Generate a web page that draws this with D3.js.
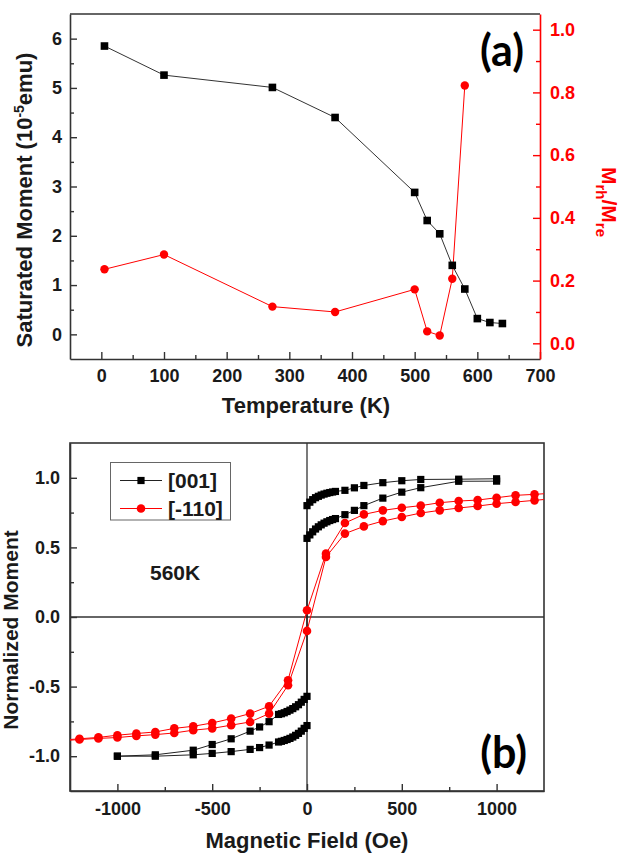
<!DOCTYPE html>
<html>
<head>
<meta charset="utf-8">
<script src="https://cdn.jsdelivr.net/npm/d3@7"></script>
<style>
	body { margin: 0; background: #fff; }
	svg { display: block; font-family: "Liberation Sans", Arial, sans-serif; font-weight: bold; }
</style>
</head>
<body>
<svg></svg>
<script>
// panel (a): saturated moment and remanence ratio vs temperature
const tempK = [5, 100, 273, 373, 500, 520, 540, 560, 580, 600, 620, 640];
const satMoment = [5.85, 5.26, 5.01, 4.40, 2.88, 2.31, 2.04, 1.40, 0.92, 0.32, 0.24, 0.22];
const ratioTempK = [5, 100, 273, 373, 500, 520, 540, 560, 580];
const remRatio = [0.236, 0.283, 0.117, 0.100, 0.172, 0.038, 0.025, 0.206, 0.822];

const tempTicks = [0, 100, 200, 300, 400, 500, 600, 700];
const momentTicks = [0, 1, 2, 3, 4, 5, 6];
const ratioTicks = [0, 0.2, 0.4, 0.6, 0.8, 1.0];

// panel (b): hysteresis loops at 560K (field in Oe, normalized moment)
const field001 = [
	1000, 800, 600, 500, 400, 300, 250, 200,
	150, 135, 120, 105, 90, 75, 60, 45, 30, 15, 0,
	0, -15, -30, -45, -60, -75, -90, -105, -120, -135, -150,
	-200, -250, -300, -400, -500, -600, -800, -1000,
	-1000, -800, -600, -500, -400, -300, -250, -200,
	-150, -135, -120, -105, -90, -75, -60, -45, -30, -15, 0,
	0, 15, 30, 45, 60, 75, 90, 105, 120, 135, 150,
	200, 250, 300, 400, 500, 600, 800, 1000
];
const moment001 = [
	0.993, 0.99, 0.988, 0.979, 0.965, 0.945, 0.928, 0.91,
	0.902, 0.898, 0.894, 0.889, 0.883, 0.876, 0.867, 0.857, 0.843, 0.825, 0.80,
	-0.57, -0.592, -0.612, -0.63, -0.645, -0.658, -0.669, -0.679, -0.688, -0.695, -0.70,
	-0.752, -0.79, -0.82, -0.875, -0.916, -0.957, -0.99, -1.0,
	-1.0, -1.0, -0.99, -0.98, -0.967, -0.951, -0.938, -0.92,
	-0.898, -0.893, -0.887, -0.88, -0.872, -0.862, -0.85, -0.836, -0.82, -0.80, -0.78,
	0.565, 0.59, 0.612, 0.632, 0.648, 0.662, 0.674, 0.684, 0.693, 0.70, 0.707,
	0.735, 0.766, 0.80, 0.854, 0.897, 0.929, 0.975, 0.976
];
const field110 = [
	1300, 1200, 1100, 1000, 900, 800, 700, 600, 500, 400, 300, 200, 100, 0,
	-100, -200, -300, -400, -500, -600, -700, -800, -900, -1000, -1100, -1200, -1300,
	-1300, -1200, -1100, -1000, -900, -800, -700, -600, -500, -400, -300, -200, -100, 0,
	100, 200, 300, 400, 500, 600, 700, 800, 900, 1000, 1100, 1200, 1300
];
const moment110 = [
	0.89, 0.881, 0.874, 0.857, 0.84, 0.833, 0.821, 0.80, 0.785, 0.766, 0.737, 0.675, 0.455, 0.048,
	-0.454, -0.641, -0.694, -0.73, -0.761, -0.785, -0.80, -0.826, -0.837, -0.849, -0.865, -0.875, -0.885,
	-0.89, -0.88, -0.872, -0.866, -0.854, -0.845, -0.833, -0.813, -0.80, -0.777, -0.754, -0.694, -0.49, -0.10,
	0.431, 0.599, 0.651, 0.689, 0.718, 0.747, 0.766, 0.783, 0.797, 0.814, 0.826, 0.838, 0.85
];

const fieldTicks = [-1000, -500, 0, 500, 1000];
const normTicks = [-1.0, -0.5, 0.0, 0.5, 1.0];

const RED = "#ff0000";
const INK = "#1a1a1a";

const svg = d3.select("svg").attr("width", 620).attr("height", 853);

function styleAxis(g, color, fontSize) {
	g.select(".domain").attr("stroke", color).attr("stroke-width", 1.6);
	g.selectAll(".tick line").attr("stroke", color).attr("stroke-width", 1.4);
	g.selectAll(".tick text")
		.attr("fill", color)
		.attr("font-size", fontSize)
		.attr("font-family", "Liberation Sans, Arial, sans-serif")
		.attr("font-weight", "bold");
}

function minorTicks(g, axis, values, color) {
	g.append("g")
		.call(axis.tickValues(values).tickFormat("").tickSizeInner(-4).tickSizeOuter(0))
		.call((s) => s.select(".domain").remove())
		.call((s) => s.selectAll(".tick line").attr("stroke", color).attr("stroke-width", 1.4));
}

// ---------- panel (a) ----------
const pa = { l: 70, r: 540, t: 14, b: 359 };
const xT = d3.scaleLinear().domain([-50, 700]).range([pa.l, pa.r]);
const yL = d3.scaleLinear().domain([-0.5, 6.5]).range([pa.b, pa.t]);
const yR = d3.scaleLinear().domain([-0.05, 1.05]).range([pa.b, pa.t]);

const ga = svg.append("g");

ga.append("line")
	.attr("x1", pa.l).attr("x2", pa.r).attr("y1", pa.t).attr("y2", pa.t)
	.attr("stroke", "#333").attr("stroke-width", 1.6);

let axisXa = ga.append("g").attr("transform", `translate(0, ${pa.b})`)
	.call(d3.axisBottom(xT).tickValues(tempTicks).tickSizeInner(-7).tickSizeOuter(0).tickPadding(10).tickFormat((d) => d));
styleAxis(axisXa, "#333", 18);
axisXa.selectAll(".tick text").attr("fill", INK);
minorTicks(axisXa, d3.axisBottom(xT), [50, 150, 250, 350, 450, 550, 650], "#333");

let axisYa = ga.append("g").attr("transform", `translate(${pa.l}, 0)`)
	.call(d3.axisLeft(yL).tickValues(momentTicks).tickSizeInner(-7).tickSizeOuter(0).tickPadding(8).tickFormat((d) => d));
styleAxis(axisYa, "#333", 18);
axisYa.selectAll(".tick text").attr("fill", INK);
minorTicks(axisYa, d3.axisLeft(yL), [0.5, 1.5, 2.5, 3.5, 4.5, 5.5], "#333");

let axisRa = ga.append("g").attr("transform", `translate(${pa.r}, 0)`)
	.call(d3.axisRight(yR).tickValues(ratioTicks).tickSizeInner(-7).tickSizeOuter(0).tickPadding(10).tickFormat((d) => d.toFixed(1)));
styleAxis(axisRa, RED, 18);
minorTicks(axisRa, d3.axisRight(yR), [0.1, 0.3, 0.5, 0.7, 0.9], RED);

const satData = tempK.map((t, i) => ({ x: t, y: satMoment[i] }));
const ratioData = ratioTempK.map((t, i) => ({ x: t, y: remRatio[i] }));

ga.append("path").datum(satData)
	.attr("d", d3.line().x((d) => xT(d.x)).y((d) => yL(d.y)))
	.attr("fill", "none").attr("stroke", "#333").attr("stroke-width", 1);
ga.append("path").datum(ratioData)
	.attr("d", d3.line().x((d) => xT(d.x)).y((d) => yR(d.y)))
	.attr("fill", "none").attr("stroke", RED).attr("stroke-width", 1);

ga.selectAll(".sq").data(satData).join("rect")
	.attr("x", (d) => xT(d.x) - 3.8).attr("y", (d) => yL(d.y) - 3.8)
	.attr("width", 7.6).attr("height", 7.6).attr("fill", "#000");
ga.selectAll(".ci").data(ratioData).join("circle")
	.attr("cx", (d) => xT(d.x)).attr("cy", (d) => yR(d.y))
	.attr("r", 4.2).attr("fill", RED);

ga.append("text")
	.attr("x", (pa.l + pa.r) / 2 + 1).attr("y", 413)
	.attr("text-anchor", "middle").attr("font-size", 22).attr("fill", INK)
	.text("Temperature (K)");

let titleL = ga.append("text")
	.attr("transform", "rotate(-90)")
	.attr("x", -200).attr("y", 32)
	.attr("text-anchor", "middle").attr("font-size", 22).attr("fill", INK);
titleL.append("tspan").text("Saturated Moment (10");
titleL.append("tspan").attr("dy", -8).attr("font-size", 14).text("-5");
titleL.append("tspan").attr("dy", 8).text("emu)");

let titleR = ga.append("text")
	.attr("transform", "rotate(90)")
	.attr("x", 202).attr("y", -602)
	.attr("text-anchor", "middle").attr("font-size", 21).attr("fill", RED);
titleR.append("tspan").text("M");
titleR.append("tspan").attr("dy", 6).attr("font-size", 15).text("rh");
titleR.append("tspan").attr("dy", -6).text("/M");
titleR.append("tspan").attr("dy", 6).attr("font-size", 15).text("re");

ga.append("text")
	.attr("x", 524).attr("y", 66)
	.attr("text-anchor", "end").attr("font-family", "Lato, 'Open Sans', sans-serif")
	.attr("font-weight", "bold").attr("font-size", 43).attr("fill", "#000")
	.text("(a)");

// ---------- panel (b) ----------
const pb = { l: 70, r: 544, t: 443, b: 791 };
const xB = d3.scaleLinear().domain([-1250, 1250]).range([pb.l, pb.r]);
const yB = d3.scaleLinear().domain([-1.25, 1.25]).range([pb.b, pb.t]);

const gb = svg.append("g");

gb.append("clipPath").attr("id", "clipB").append("rect")
	.attr("x", pb.l).attr("y", pb.t).attr("width", pb.r - pb.l).attr("height", pb.b - pb.t);

gb.append("line")
	.attr("x1", xB(0)).attr("x2", xB(0)).attr("y1", pb.t).attr("y2", pb.b)
	.attr("stroke", "#333").attr("stroke-width", 1.3);
gb.append("line")
	.attr("x1", pb.l).attr("x2", pb.r).attr("y1", yB(0)).attr("y2", yB(0))
	.attr("stroke", "#333").attr("stroke-width", 1.3);

gb.append("rect")
	.attr("x", pb.l).attr("y", pb.t).attr("width", pb.r - pb.l).attr("height", pb.b - pb.t)
	.attr("fill", "none").attr("stroke", "#333").attr("stroke-width", 1.6);

let axisXb = gb.append("g").attr("transform", `translate(0, ${pb.b})`)
	.call(d3.axisBottom(xB).tickValues(fieldTicks).tickSizeInner(-7).tickSizeOuter(0).tickPadding(11).tickFormat((d) => String(d)));
styleAxis(axisXb, "#333", 18);
axisXb.selectAll(".tick text").attr("fill", INK);
minorTicks(axisXb, d3.axisBottom(xB), [-750, -250, 250, 750], "#333");

let axisYb = gb.append("g").attr("transform", `translate(${pb.l}, 0)`)
	.call(d3.axisLeft(yB).tickValues(normTicks).tickSizeInner(-7).tickSizeOuter(0).tickPadding(10).tickFormat((d) => d.toFixed(1)));
styleAxis(axisYb, "#333", 18);
axisYb.selectAll(".tick text").attr("fill", INK);
minorTicks(axisYb, d3.axisLeft(yB), [-0.75, -0.25, 0.25, 0.75], "#333");

const loop001 = field001.map((h, i) => ({ x: h, y: moment001[i] }));
const loop110 = field110.map((h, i) => ({ x: h, y: moment110[i] }));

const data = gb.append("g").attr("clip-path", "url(#clipB)");

data.append("path").datum(loop001)
	.attr("d", d3.line().x((d) => xB(d.x)).y((d) => yB(d.y)))
	.attr("fill", "none").attr("stroke", "#222").attr("stroke-width", 1);
data.selectAll(".sq").data(loop001).join("rect")
	.attr("x", (d) => xB(d.x) - 3.6).attr("y", (d) => yB(d.y) - 3.6)
	.attr("width", 7.2).attr("height", 7.2).attr("fill", "#000");

data.append("path").datum(loop110)
	.attr("d", d3.line().x((d) => xB(d.x)).y((d) => yB(d.y)))
	.attr("fill", "none").attr("stroke", RED).attr("stroke-width", 1);
data.selectAll(".ci").data(loop110).join("circle")
	.attr("cx", (d) => xB(d.x)).attr("cy", (d) => yB(d.y))
	.attr("r", 4.3).attr("fill", RED);

// legend
const legend = gb.append("g");
legend.append("rect")
	.attr("x", 110.5).attr("y", 462.5).attr("width", 120).attr("height", 57.5)
	.attr("fill", "#fff").attr("stroke", "#666").attr("stroke-width", 1);
const legendItems = [
	{ label: "[001]", color: "#222", mark: "square", y: 480.5 },
	{ label: "[-110]", color: RED, mark: "circle", y: 508.5 },
];
legendItems.forEach((it) => {
	legend.append("line")
		.attr("x1", 120).attr("x2", 162).attr("y1", it.y).attr("y2", it.y)
		.attr("stroke", it.color).attr("stroke-width", 1);
	if (it.mark === "square") {
		legend.append("rect").attr("x", 137.4).attr("y", it.y - 3.6)
			.attr("width", 7.2).attr("height", 7.2).attr("fill", "#000");
	} else {
		legend.append("circle").attr("cx", 141).attr("cy", it.y).attr("r", 4.3).attr("fill", RED);
	}
	legend.append("text")
		.attr("x", 168).attr("y", it.y + 7.5)
		.attr("font-size", 21).attr("fill", INK)
		.text(it.label);
});

gb.append("text")
	.attr("x", 150).attr("y", 580)
	.attr("font-size", 21).attr("fill", INK)
	.text("560K");

gb.append("text")
	.attr("x", 527).attr("y", 768)
	.attr("text-anchor", "end").attr("font-family", "Lato, 'Open Sans', sans-serif")
	.attr("font-weight", "bold").attr("font-size", 43).attr("fill", "#000")
	.text("(b)");

gb.append("text")
	.attr("x", (pb.l + pb.r) / 2).attr("y", 848)
	.attr("text-anchor", "middle").attr("font-size", 22).attr("fill", INK)
	.text("Magnetic Field (Oe)");

gb.append("text")
	.attr("transform", "rotate(-90)")
	.attr("x", -630).attr("y", 18)
	.attr("text-anchor", "middle").attr("font-size", 21).attr("fill", INK)
	.text("Normalized Moment");
</script>
</body>
</html>
